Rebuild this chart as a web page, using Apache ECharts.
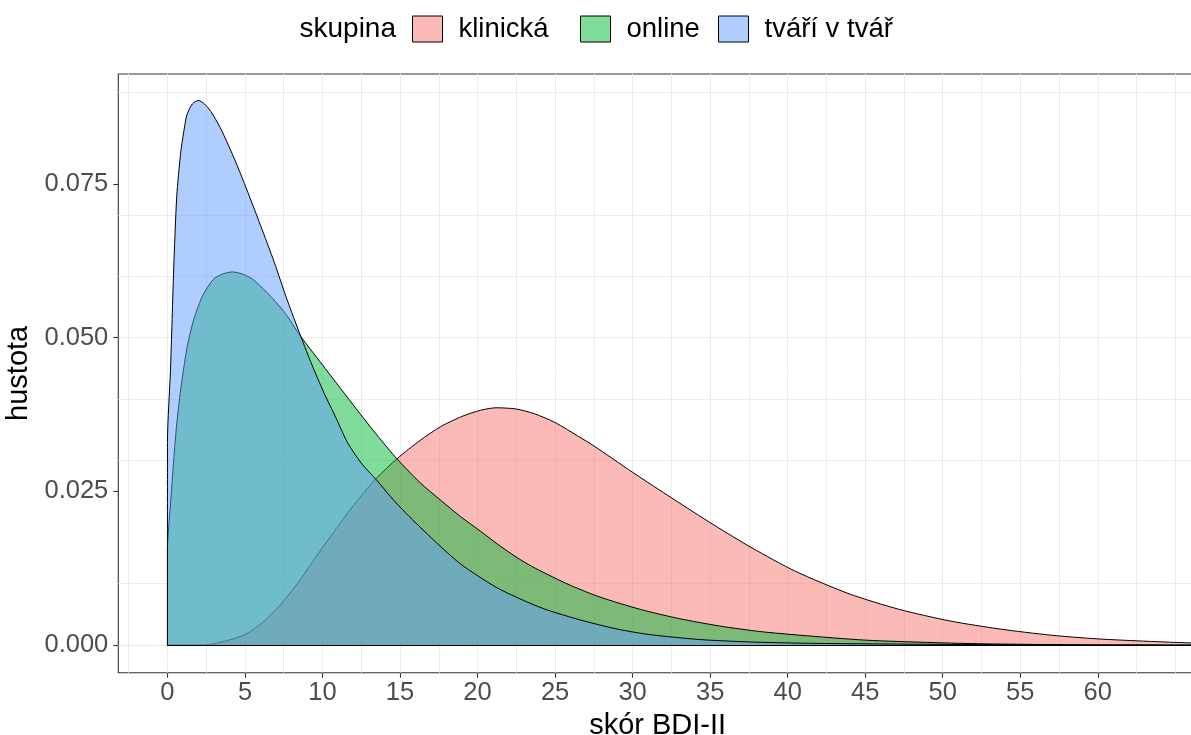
<!DOCTYPE html>
<html><head><meta charset="utf-8">
<script src="https://cdn.jsdelivr.net/npm/echarts@6/dist/echarts.min.js"></script>
<style>html,body{margin:0;padding:0;background:#fff}#c{width:1191px;height:735px}</style>
</head><body><div id="c"></div><script>
// ---- data ----
const groups = ['klinická', 'online', 'tváří v tvář'];
const legendTitle = 'skupina';
const xTitle = 'skór BDI-II';
const yTitle = 'hustota';

const xKlin = [0, 2.4, 3.5, 5, 6.2, 7.3, 8.5, 9.4, 10.5, 11.6, 12.5, 13.5, 14.8, 16.3, 17.6, 19, 20.2, 21.2, 22.5, 23.7, 25, 26.6, 27.5, 30, 32.6, 35.2, 37.7, 40.5, 44, 47.2, 50.5, 53.7, 57, 60, 63.3, 66.4];
const yKlin = [0, 0, 0.0005, 0.0017, 0.0038, 0.0066, 0.0104, 0.0137, 0.0176, 0.0214, 0.0243, 0.0272, 0.0303, 0.0333, 0.0355, 0.0372, 0.0382, 0.0386, 0.0384, 0.0376, 0.0362, 0.0338, 0.0324, 0.0281, 0.0238, 0.0196, 0.0158, 0.012, 0.0083, 0.0058, 0.0039, 0.0026, 0.0016, 0.001, 0.0006, 0.0003];

const xOnline = [0, 0.2, 0.4, 0.6, 0.85, 1.25, 1.7, 2.3, 3.0, 3.6, 4.2, 4.9, 5.5, 6.4, 7.5, 8.6, 9.9, 11.15, 12.4, 13.5, 14.8, 16.3, 17.6, 18.9, 20.2, 21.3, 22.5, 23.5, 24.5, 26, 27.9, 30.5, 33, 35.6, 38.2, 40.8, 45, 49.4, 52.6, 56, 60, 66.4];
const yOnline = [0.0155, 0.023, 0.030, 0.036, 0.0415, 0.0482, 0.053, 0.057, 0.0596, 0.0604, 0.0607, 0.0603, 0.0595, 0.0574, 0.0543, 0.0502, 0.0459, 0.0418, 0.0377, 0.0342, 0.0303, 0.0264, 0.0236, 0.0209, 0.0185, 0.0164, 0.0143, 0.0128, 0.0115, 0.0097, 0.0078, 0.0058, 0.0043, 0.0031, 0.0022, 0.0016, 0.0008, 0.0004, 0.0002, 0.0001, 0.00003, 0];

const xTvar = [0, 0.2, 0.4, 0.6, 0.85, 1.05, 1.25, 1.6, 2.0, 2.4, 2.8, 3.4, 3.9, 4.5, 5.1, 6.0, 6.9, 7.7, 8.6, 9.3, 10.1, 10.9, 11.6, 12.5, 13.5, 14.4, 15.4, 17.2, 18.9, 21.2, 23.2, 24.5, 26.6, 29, 31.1, 34.3, 37.6, 41, 45, 50, 55, 60, 66.4];
const yTvar = [0.033, 0.045, 0.061, 0.073, 0.080, 0.0835, 0.0862, 0.088, 0.0886, 0.088, 0.0868, 0.0842, 0.0815, 0.078, 0.0742, 0.0683, 0.0622, 0.0563, 0.0502, 0.0457, 0.041, 0.0368, 0.033, 0.0296, 0.0268, 0.0241, 0.0214, 0.017, 0.0132, 0.0094, 0.007, 0.0057, 0.0041, 0.0026, 0.0017, 0.0009, 0.0005, 0.0003, 0.0002, 0.0001, 0.00005, 0, 0];

const xBreaks = [0, 5, 10, 15, 20, 25, 30, 35, 40, 45, 50, 55, 60];
const xMinorBreaks = [-2.5, 2.5, 7.5, 12.5, 17.5, 22.5, 27.5, 32.5, 37.5, 42.5, 47.5, 52.5, 57.5, 62.5, 65];
const yBreaks = [0, 0.025, 0.05, 0.075];
const yMinorBreaks = [0.0125, 0.0375, 0.0625, 0.0875];
const xLimits = [-3.17, 66.4];
const yLimits = [-0.0045, 0.0929];

// ---- styles ----
const FONT = "'Liberation Sans', Arial, sans-serif";
const fills = ['rgba(248,118,109,0.5)', 'rgba(0,186,56,0.5)', 'rgba(97,156,255,0.5)'];
const xs = [xKlin, xOnline, xTvar];
const ys = [yKlin, yOnline, yTvar];

function curveData(x, y) {
  const d = [[x[0], 0]];
  for (let i = 0; i < x.length; i++) d.push([x[i], y[i]]);
  return d;
}

const gridLine = {color: '#EBEBEB', width: 1, type: 'solid'};
const gridSeries = {
  type: 'line', name: '_grid', data: [[0, 0]], showSymbol: false, silent: true,
  lineStyle: {opacity: 0}, z: 1,
  markLine: {
    silent: true, symbol: ['none', 'none'], animation: false, z: 1,
    label: {show: false}, lineStyle: gridLine,
    data: [].concat(
      xMinorBreaks.map(v => ({xAxis: v})),
      xBreaks.map(v => ({xAxis: v})),
      yMinorBreaks.map(v => ({yAxis: v})),
      yBreaks.map(v => ({yAxis: v}))
    )
  }
};

const densitySeries = groups.map((g, i) => {
  const x = xs[i];
  return {
    type: 'line', name: g, data: curveData(x, ys[i]),
    showSymbol: false, smooth: 0.25, z: 10 + i, silent: true,
    lineStyle: {color: '#000', width: 1},
    itemStyle: {color: fills[i], borderColor: '#000'},
    areaStyle: {color: fills[i], opacity: 1, origin: 0},
    markLine: {
      silent: true, symbol: ['none', 'none'], animation: false, z: 10 + i,
      label: {show: false}, lineStyle: {color: '#000', width: 1, type: 'solid'},
      data: [[{coord: [x[0], 0]}, {coord: [x[x.length - 1], 0]}]]
    }
  };
});

const keyLefts = [412, 580, 718];
const legends = groups.map((g, i) => ({
  show: true, left: keyLefts[i], top: 15, orient: 'horizontal',
  padding: 0, itemWidth: 30, itemHeight: 26, selectedMode: false,
  textStyle: {fontSize: 27.5, color: '#000', fontFamily: FONT, padding: [0, 0, 0, 11]},
  data: [{name: g, icon: 'rect', itemStyle: {color: fills[i], borderColor: '#000', borderWidth: 1}}]
}));

const axisCommon = {
  axisLine: {show: false, onZero: false},
  splitLine: {show: false}, minorSplitLine: {show: false}
};

const chart = echarts.init(document.getElementById('c'), null, {renderer: 'canvas'});
chart.setOption({
  animation: false,
  backgroundColor: '#fff',
  textStyle: {fontFamily: FONT},
  legend: legends,
  graphic: [{
    type: 'text', x: 396, y: 29,
    style: {text: legendTitle, align: 'right', verticalAlign: 'middle', fontSize: 28, fill: '#000', fontFamily: FONT}
  }],
  grid: {left: 118.3, top: 74, right: -6, bottom: 62.3, containLabel: false, outerBoundsMode: 'none',
    show: true, borderColor: '#333333', borderWidth: 1.1, backgroundColor: '#fff'},
  xAxis: Object.assign({}, axisCommon, {
    type: 'value', min: xLimits[0], max: xLimits[1],
    name: xTitle, nameLocation: 'middle', nameGap: 38,
    nameTextStyle: {fontSize: 29, color: '#000', fontFamily: FONT},
    axisTick: {show: true, length: 5, lineStyle: {color: '#333333', width: 1.1}, customValues: xBreaks},
    axisLabel: {show: true, margin: 7.5, fontSize: 25.5, color: '#4D4D4D', fontFamily: FONT, customValues: xBreaks,
      formatter: v => String(v)}
  }),
  yAxis: Object.assign({}, axisCommon, {
    type: 'value', min: yLimits[0], max: yLimits[1],
    name: yTitle, nameLocation: 'middle', nameGap: 72, nameRotate: 90,
    nameTextStyle: {fontSize: 29, color: '#000', fontFamily: FONT},
    axisTick: {show: true, length: 5, lineStyle: {color: '#333333', width: 1.1}, customValues: yBreaks},
    axisLabel: {show: true, margin: 10, fontSize: 25.5, color: '#4D4D4D', fontFamily: FONT, customValues: yBreaks,
      formatter: v => v.toFixed(3)}
  }),
  series: [gridSeries].concat(densitySeries)
});
</script></body></html>
